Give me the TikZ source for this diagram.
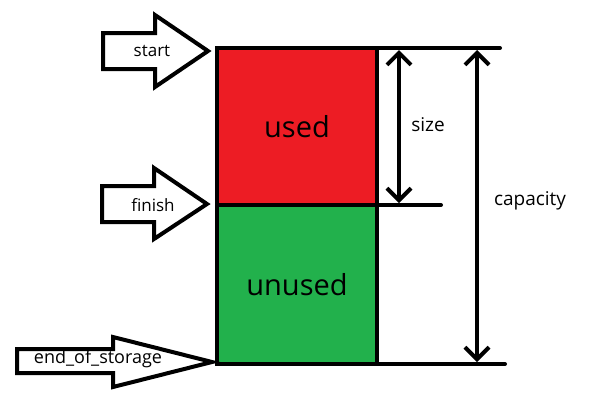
\documentclass[tikz,border=0pt]{standalone}
\usepackage{fontspec}
\setmainfont{Open Sans}
\usepackage{tikz}
\usetikzlibrary{
  arrows.meta,
  positioning
}
\definecolor{usedRed}{HTML}{ED1C24}
\definecolor{unusedGreen}{HTML}{22B14C}
\tikzset{
  blk/.style={
    rectangle, draw=black, line width=4pt, outer sep=0pt,
    minimum width=160pt, font=\fontsize{29}{33}\selectfont
  },
  ptr/.style={draw=black, line width=4pt, fill=white, line join=miter},
  ptr lbl/.style={font=\fontsize{17}{20}\selectfont},
  dim/.style={line width=4pt, line cap=round},
  dim arr/.style={line width=4pt,
    {Straight Barb[length=12pt,width=24pt]}-{Straight Barb[length=12pt,width=24pt]}},
  dim lbl/.style={font=\fontsize{19}{22}\selectfont}
}
\begin{document}
\begin{tikzpicture}[x=1pt, y=-1pt]
  \useasboundingbox (0,0) rectangle (603,413);

  % storage blocks
  \node[blk, fill=usedRed, minimum height=157pt] (used) at (297,126.5) {used};
  \node[blk, fill=unusedGreen, minimum height=159pt, below=0pt of used] (unused) {unused};

  % pointers
  \draw[ptr] (103,33) -- (155,33) -- (155,15) -- (208,51) -- (155,87)
    -- (155,69) -- (103,69) -- cycle;
  \node[ptr lbl] (start) at (152,51) {start};
  \draw[ptr] (102,186) -- (154,186) -- (154,168) -- (207,204) -- (154,239)
    -- (154,222) -- (102,222) -- cycle;
  \node[ptr lbl] (finish) at (153,205) {finish};
  \draw[ptr] (17,349) -- (113,349) -- (113,337) -- (212,362) -- (113,387)
    -- (113,373) -- (17,373) -- cycle;
  \node[ptr lbl, font=\fontsize{18}{21}\selectfont] (eos) at (98,359) {end\_of\_storage};

  % extension lines
  \coordinate (topend) at (500,48);
  \coordinate (midend) at (441,205);
  \coordinate (botend) at (505,364);
  \draw[dim] (used.north west) -- (topend);
  \draw[dim] (used.south east) -- (midend);
  \draw[dim] (unused.south west) -- (botend);

  % size and capacity
  \coordinate (sizetop) at (399,50);
  \coordinate (sizebot) at (399,203);
  \coordinate (captop) at (477,50);
  \coordinate (capbot) at (477,362);
  \draw[dim arr] (sizetop) -- (sizebot);
  \draw[dim arr] (captop) -- (capbot);
  \node[dim lbl] (size) at (428,125) {size};
  \node[dim lbl] (capacity) at (530,201) {capacity};
\end{tikzpicture}
\end{document}
